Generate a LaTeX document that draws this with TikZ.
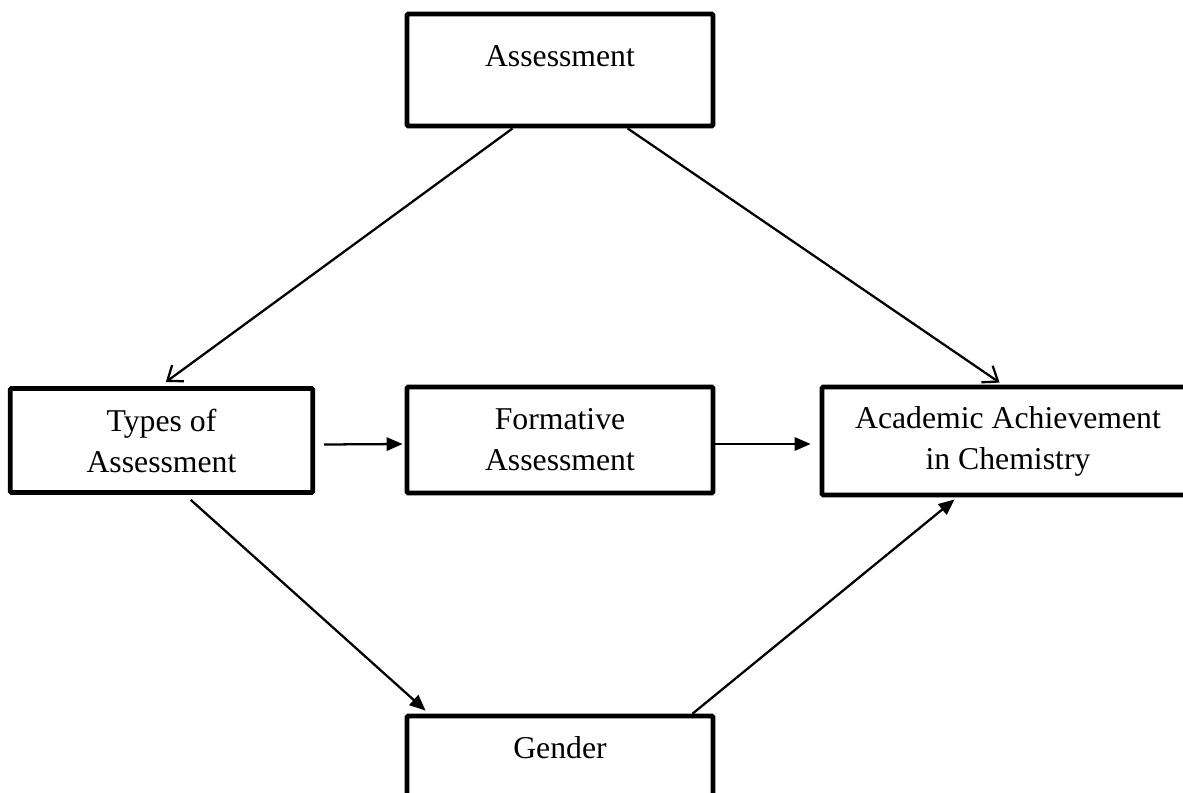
\documentclass[tikz,border=0pt]{standalone}
\usepackage{fontspec}
\setmainfont{Liberation Serif}
\usetikzlibrary{arrows.meta,calc}
\begin{document}
\begin{tikzpicture}[x=0.75pt,y=-0.75pt,
  box/.style={draw,line width=3.6pt,rectangle,rounded corners=1pt,align=center,
    font=\fontsize{23.8}{30.75}\selectfont,inner sep=0pt},
  conn/.style={line width=1.7pt},
  open/.style={conn,-{Straight Barb[length=10pt,width=15pt,line width=1.7pt]}},
  fill/.style={conn,-{Triangle[length=12pt,width=10pt]}}]
\useasboundingbox (0,0) rectangle (1183,793);
\clip (0,0) rectangle (1183,793);
\node[box,anchor=base,minimum width=229.5pt,text height=39pt,text depth=45pt] (A) at (560,66) {Assessment};
\node[box,minimum width=227pt,minimum height=78pt] (T) at (161.5,440.5) {Types of\\Assessment};
\node[box,minimum width=229.5pt,minimum height=79.5pt] (F) at (560,440) {Formative\\Assessment};
\node[box,minimum width=279pt,minimum height=81pt] (C) at (1008,441) {Academic Achievement\\in Chemistry};
\node[box,anchor=base,minimum width=229.5pt,text height=31.5pt,text depth=54pt] (G) at (560,758) {Gender};
\draw[open] ($(A.south west)+(108,0)$) -- ($(T.north west)+(158,-4)$);
\draw[open] ($(A.south west)+(223,0)$) -- ($(C.north west)+(180,-2)$);
\draw[fill] ($(T.east)+(9,4)$) -- ($(F.west)+(-2,4)$);
\draw[fill] ($(F.east)+(0,4)$) -- ($(C.west)+(-9,3)$);
\draw[fill] ($(T.south west)+(183,5)$) -- ($(G.north west)+(21,-3)$);
\draw[fill] ($(G.north west)+(288,0)$) -- ($(C.south west)+(135,2)$);
\end{tikzpicture}
\end{document}
